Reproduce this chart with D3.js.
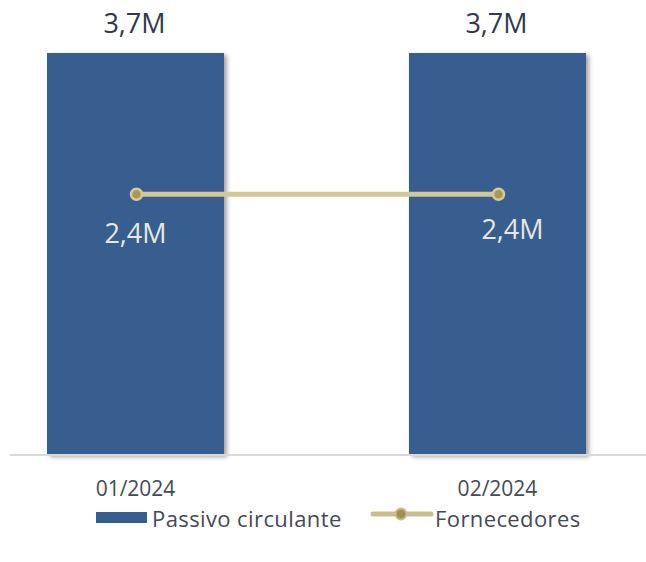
<!DOCTYPE html>
<html>
<head>
<meta charset="utf-8">
<script src="https://cdn.jsdelivr.net/npm/d3@7"></script>
<style>
  html, body { margin: 0; padding: 0; background: #ffffff; }
  svg { display: block; font-family: "Open Sans", "Noto Sans", sans-serif; }
</style>
</head>
<body>
<svg id="chart" width="646" height="562"></svg>
<script>
const categories = ["01/2024", "02/2024"];
const passivoCirculante = [3.7, 3.7];
const fornecedores = [2.4, 2.4];
const seriesNames = ["Passivo circulante", "Fornecedores"];
const fmt = v => d3.format(".1f")(v).replace(".", ",") + "M";

const svg = d3.select("#chart");
const W = 646, H = 562;

const defs = svg.append("defs");
const f = defs.append("filter").attr("id", "shadow")
  .attr("x", "-10%").attr("y", "-10%").attr("width", "130%").attr("height", "130%");
f.append("feDropShadow").attr("dx", 3).attr("dy", 2).attr("stdDeviation", 2.2)
  .attr("flood-color", "#000").attr("flood-opacity", 0.35);

const x = d3.scaleBand().domain(categories).range([47, 586]).paddingInner(0.511).paddingOuter(0);
const y = d3.scaleLinear().domain([0, 3.7]).range([455, 53]);

// bars
svg.append("g").selectAll("rect").data(categories).join("rect")
  .attr("x", d => x(d))
  .attr("y", (d, i) => y(passivoCirculante[i]))
  .attr("width", x.bandwidth())
  .attr("height", (d, i) => y(0) - y(passivoCirculante[i]))
  .attr("fill", "#375d8f")
  .attr("filter", "url(#shadow)");

// baseline axis
const xAxis = d3.axisBottom(x).tickSize(0).tickPadding(0);
const gx = svg.append("g").attr("transform", `translate(0,${y(0)})`).call(xAxis);
gx.select(".domain").remove();
gx.append("line").attr("x1", 10).attr("x2", W).attr("y1", 0).attr("y2", 0)
  .attr("stroke", "#d9d9d9").attr("stroke-width", 2);
gx.selectAll(".tick text")
  .attr("y", 41).attr("dy", 0)
  .attr("font-size", 21)
  .attr("font-family", "'Open Sans', sans-serif")
  .attr("fill", "#454a57");

// bar labels
svg.append("g").selectAll("text").data(categories).join("text")
  .attr("x", d => x(d) + x.bandwidth() / 2 - 1)
  .attr("y", (d, i) => y(passivoCirculante[i]) - 20)
  .attr("text-anchor", "middle")
  .attr("font-size", 27)
  .attr("fill", "#2f3a4f")
  .text((d, i) => fmt(passivoCirculante[i]));

// line
const cx = d => x(d) + x.bandwidth() / 2 + 1;
const line = d3.line().x(d => cx(d)).y((d, i) => y(fornecedores[i]));
svg.append("path").datum(categories)
  .attr("d", line)
  .attr("fill", "none")
  .attr("stroke", "#d3c797")
  .attr("stroke-width", 5);
svg.append("g").selectAll("circle").data(categories).join("circle")
  .attr("cx", d => cx(d))
  .attr("cy", (d, i) => y(fornecedores[i]))
  .attr("r", 5.5)
  .attr("fill", "#a8995a")
  .attr("stroke", "#d6ca9a")
  .attr("stroke-width", 2.5);

// line labels
const labelDx = [0, 15];
const labelDy = [49, 45];
svg.append("g").selectAll("text").data(categories).join("text")
  .attr("x", (d, i) => x(d) + x.bandwidth() / 2 + labelDx[i])
  .attr("y", (d, i) => y(fornecedores[i]) + labelDy[i])
  .attr("text-anchor", "middle")
  .attr("font-size", 27)
  .attr("fill", "#e8e8e2")
  .text((d, i) => fmt(fornecedores[i]));

// legend
const lg = svg.append("g");
lg.append("rect").attr("x", 96).attr("y", 512).attr("width", 51).attr("height", 11).attr("fill", "#375d8f");
lg.append("text").attr("x", 152).attr("y", 527).attr("font-size", 22).attr("letter-spacing", 0.4)
  .attr("fill", "#454a57").text(seriesNames[0]);
lg.append("line").attr("x1", 373).attr("x2", 431).attr("y1", 514).attr("y2", 514)
  .attr("stroke", "#c9bf8e").attr("stroke-width", 5).attr("stroke-linecap", "round");
lg.append("circle").attr("cx", 401).attr("cy", 514).attr("r", 5.5)
  .attr("fill", "#9d9050").attr("stroke", "#c9bf8e").attr("stroke-width", 2);
lg.append("text").attr("x", 435).attr("y", 527).attr("font-size", 22).attr("letter-spacing", 0.4)
  .attr("fill", "#454a57").text(seriesNames[1]);
</script>
</body>
</html>
